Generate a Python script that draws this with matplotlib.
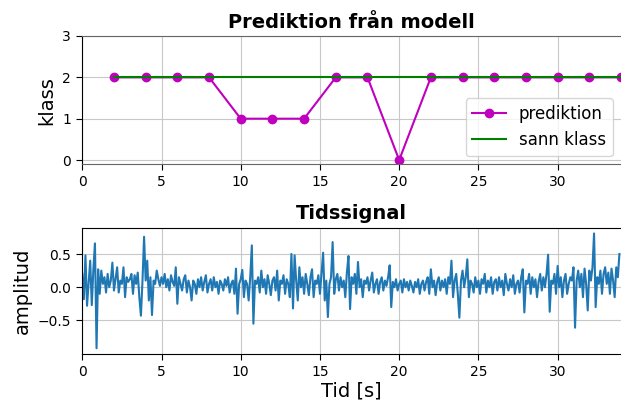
import numpy as np
import matplotlib
matplotlib.use("Agg")
import matplotlib.pyplot as plt

#%% Data

# prediktion och sann klass, ett värde varannan sekund
t_klass = [2, 4, 6, 8, 10, 12, 14, 16, 18, 20, 22, 24, 26, 28, 30, 32, 34]
prediktion = [2, 2, 2, 2, 1, 1, 1, 2, 2, 0, 2, 2, 2, 2, 2, 2, 2]
sann_klass = [2] * len(t_klass)

# tidssignal, 10 värden per sekund
signal = [
    0.20, -0.18, 0.48, -0.28, 0.05, 0.40, -0.27, 0.27, 0.66, -0.92,
    0.27, -0.10, 0.25, 0.05, 0.15, -0.08, 0.20, 0.00, 0.10, 0.37,
    -0.05, 0.12, 0.30, -0.08, 0.10, 0.05, 0.30, -0.15, 0.15, 0.08,
    0.12, 0.20, -0.10, 0.18, 0.05, 0.22, -0.15, -0.43, 0.10, 0.76,
    0.10, 0.40, -0.20, 0.15, -0.42, 0.10, 0.05, 0.25, 0.12, 0.02,
    0.15, 0.05, 0.20, 0.00, 0.12, -0.05, 0.18, 0.08, 0.02, 0.30,
    -0.25, 0.15, 0.05, -0.05, 0.12, 0.18, -0.08, 0.10, 0.00, -0.20,
    0.10, 0.05, -0.10, 0.12, 0.00, 0.15, -0.05, 0.08, 0.18, -0.08,
    0.05, 0.12, -0.05, 0.15, 0.00, 0.08, -0.10, 0.10, 0.05, -0.05,
    0.12, 0.02, 0.15, -0.08, 0.05, 0.10, -0.10, 0.28, -0.40, 0.05,
    0.12, 0.26, -0.15, 0.10, 0.05, -0.20, 0.15, 0.63, -0.55, 0.10,
    0.05, 0.15, -0.08, 0.25, 0.00, 0.12, -0.10, 0.18, 0.05, -0.12,
    0.10, 0.15, -0.05, 0.25, -0.20, 0.10, 0.05, 0.18, -0.10, 0.12,
    0.05, -0.15, 0.50, -0.32, 0.48, 0.10, -0.20, 0.30, 0.00, 0.15,
    -0.10, 0.20, 0.05, -0.12, 0.15, 0.27, -0.15, 0.10, 0.05, 0.18,
    -0.10, 0.20, 0.52, -0.20, 0.10, -0.45, 0.05, 0.15, 0.68, -0.10,
    0.12, 0.20, -0.05, 0.15, 0.00, 0.10, -0.15, 0.22, 0.47, -0.33,
    0.15, 0.05, 0.20, -0.10, 0.38, 0.00, 0.12, -0.15, 0.10, 0.05,
    0.15, -0.05, 0.10, 0.22, -0.08, 0.05, 0.12, -0.10, 0.08, 0.15,
    -0.05, 0.10, 0.02, 0.15, 0.33, -0.30, 0.08, 0.00, 0.12, -0.05,
    0.05, 0.10, -0.08, 0.12, 0.00, 0.08, -0.05, 0.10, 0.02, -0.08,
    0.08, 0.00, 0.12, -0.10, 0.05, 0.10, -0.05, 0.08, 0.15, -0.10,
    0.27, 0.00, 0.10, -0.12, 0.08, 0.15, -0.05, 0.10, 0.00, 0.12,
    -0.10, 0.15, 0.05, 0.40, -0.15, 0.10, 0.20, -0.10, -0.46, 0.10,
    0.25, 0.00, 0.15, 0.42, -0.15, 0.10, 0.05, -0.08, 0.15, 0.00,
    0.10, -0.10, 0.12, 0.05, 0.20, -0.08, 0.10, 0.00, 0.15, -0.10,
    0.08, 0.12, -0.05, 0.15, 0.00, 0.10, -0.12, 0.20, 0.05, -0.05,
    0.12, 0.00, 0.18, -0.10, 0.05, 0.10, -0.08, 0.15, 0.27, -0.38,
    0.10, 0.05, 0.20, -0.10, 0.15, 0.00, 0.12, -0.15, 0.08, 0.20,
    -0.05, 0.15, 0.00, 0.20, 0.49, -0.37, 0.10, 0.05, 0.20, -0.10,
    0.32, 0.00, 0.15, -0.15, 0.10, 0.20, -0.10, 0.05, 0.15, 0.10,
    0.30, -0.61, 0.10, 0.25, 0.00, 0.20, -0.15, 0.28, 0.05, -0.35,
    0.25, 0.10, 0.30, 0.81, -0.30, 0.15, 0.05, 0.25, -0.10, 0.20,
    0.30, 0.05, 0.22, -0.10, 0.28, 0.10, -0.15, 0.30, 0.15, 0.50,
]
t_signal = np.arange(len(signal)) * 0.1

#%% Figur

fig = plt.figure(figsize=(6.21, 4.03), dpi=100)
ax1 = fig.add_axes([0.1325, 0.5926, 0.8675, 0.3181])
ax2 = fig.add_axes([0.1325, 0.1216, 0.8675, 0.3134])

ax1.plot(t_klass, prediktion, 'm-o', ms=6, lw=1.5, label='prediktion')
ax1.plot(t_klass, sann_klass, 'g-', lw=1.5, label='sann klass')
ax1.set_xlim(0, 34)
ax1.set_ylim(-0.1, 3)
ax1.set_yticks([0, 1, 2, 3])
ax1.set_xticks([0, 5, 10, 15, 20, 25, 30])
ax1.set_ylabel('klass', fontsize=14)
ax1.set_title('Prediktion från modell', fontsize=14, fontweight='bold')
ax1.grid(True, color='#c8c8c8')
ax1.legend(loc='lower right', fontsize=12)
ax1.spines['top'].set_color('#666666')
ax1.spines['bottom'].set_color('#666666')
ax1.spines['right'].set_visible(False)

ax2.plot(t_signal, signal, color='#1f77b4', lw=1.5)
ax2.set_xlim(0, 34)
ax2.set_xticks([0, 5, 10, 15, 20, 25, 30])
ax2.set_yticks([-0.5, 0.0, 0.5])
ax2.set_ylabel('amplitud', fontsize=14)
ax2.set_xlabel('Tid [s]', fontsize=14, labelpad=2)
ax2.set_title('Tidssignal', fontsize=14, fontweight='bold')
ax2.grid(True, color='#c8c8c8')
ax2.spines['right'].set_visible(False)

for ax in (ax1, ax2):
    ax.tick_params(labelsize=10, length=4.5)

fig.savefig('out.png', dpi=100)
